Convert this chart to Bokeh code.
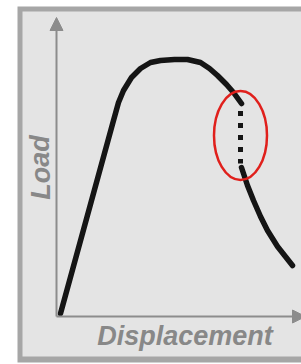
from bokeh.plotting import figure
from bokeh.models import Range1d, Arrow, NormalHead, Label
from bokeh.embed import file_html
from bokeh.resources import INLINE

# Load-displacement curve (arbitrary units)
disp = [4, 57, 62, 67, 75, 84, 94, 104, 118, 131, 144, 153, 161, 170, 177, 185]
load = [3, 196, 214, 226, 239, 248, 254, 256, 257, 257, 254, 248, 241, 232, 224, 213]
# sudden load drop (dotted)
drop_disp = [184, 184]
drop_load = [205.5, 153]
# post-drop softening branch
post_disp = [185, 188, 191, 197, 204, 211, 221, 236]
post_load = [149, 140, 131, 116, 100, 86, 70, 51]
# highlighted drop region
drop_center = (184, 181)
drop_size = (53, 89)

p = figure(width=301, height=364, output_backend="svg", toolbar_location=None,
           x_range=Range1d(-56, 245), y_range=Range1d(-48, 316),
           min_border=0, outline_line_color=None, background_fill_color="white",
           border_fill_color="white")
p.axis.visible = False
p.grid.visible = False

# panel box
p.quad(left=[-39], right=[300], bottom=[-46], top=[310], fill_color="#a6a6a6", line_color=None)
p.quad(left=[-34], right=[300], bottom=[-40], top=[305], fill_color="#e4e4e4", line_color=None)

# axes with arrows
axis_col = "#8c8c8c"
p.add_layout(Arrow(x_start=0, y_start=0, x_end=0, y_end=299,
                   line_color=axis_col, line_width=2,
                   end=NormalHead(size=13, fill_color=axis_col, line_color=axis_col)))
p.add_layout(Arrow(x_start=0, y_start=0, x_end=249, y_end=0,
                   line_color=axis_col, line_width=2,
                   end=NormalHead(size=13, fill_color=axis_col, line_color=axis_col)))

# curve
p.line(disp, load, line_color="#151515", line_width=5.5, line_join="round", line_cap="round")
p.line(drop_disp, drop_load, line_color="#151515", line_width=5, line_dash="5 7", line_cap="butt")
p.line(post_disp, post_load, line_color="#151515", line_width=5.5, line_join="round", line_cap="round")

# red ellipse
p.ellipse(x=[drop_center[0]], y=[drop_center[1]], width=drop_size[0], height=drop_size[1],
          fill_color=None, line_color="#e0201c", line_width=2.5)

lab_col = "#888888"
p.add_layout(Label(x=-16, y=149, text="Load", angle=1.5708, text_align="center",
                   text_baseline="alphabetic", text_font="Liberation Sans",
                   text_font_style="bold italic", text_font_size="27px", text_color=lab_col))
p.add_layout(Label(x=128.5, y=-19, text="Displacement", text_align="center",
                   text_baseline="alphabetic", text_font="Liberation Sans",
                   text_font_style="bold italic", text_font_size="27px", text_color=lab_col))

open("out.html", "w").write(file_html(p, INLINE))
